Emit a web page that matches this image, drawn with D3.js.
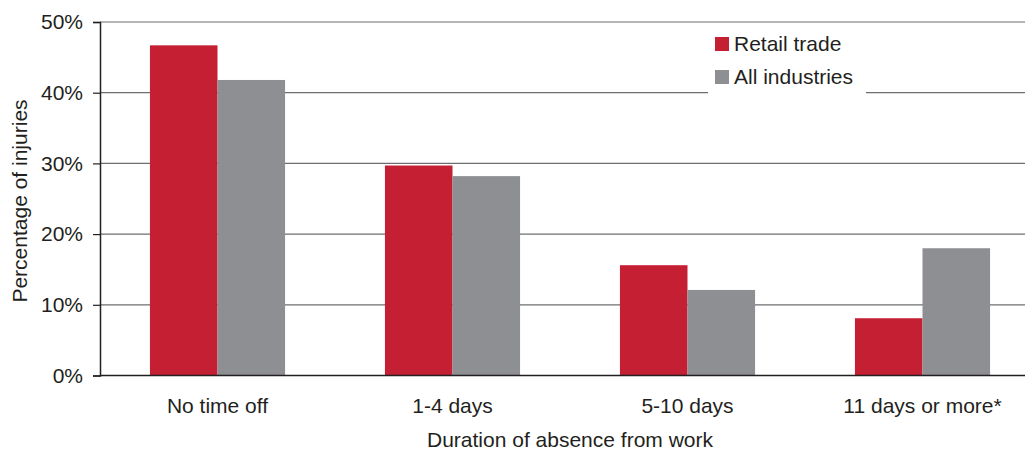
<!DOCTYPE html>
<html><head><meta charset="utf-8">
<script src="https://cdn.jsdelivr.net/npm/d3@7"></script>
<style>
html,body{margin:0;padding:0;background:#fff;}
text{font-family:"Liberation Sans",Arial,sans-serif;fill:#231f20;}
</style></head>
<body>
<svg id="chart" width="1027" height="453"></svg>
<script>
const categories = ["No time off", "1-4 days", "5-10 days", "11 days or more*"];
const seriesNames = ["Retail trade", "All industries"];
const retailTrade = [46.7, 29.7, 15.6, 8.1];
const allIndustries = [41.8, 28.2, 12.1, 18.0];
const yTicks = [0, 10, 20, 30, 40, 50];
const colors = ["#c41f33", "#8e8f93"];

const svg = d3.select("#chart");
const mLeft = 100, mRight = 1025, mTop = 22, mBottom = 375.5;
const fs = 21;

const x = d3.scaleBand().domain(categories).range([mLeft, mLeft + 940]).paddingInner(0.425).paddingOuter(0.2125);
const xs = d3.scaleBand().domain(seriesNames).range([0, x.bandwidth()]);
const y = d3.scaleLinear().domain([0, 50]).range([mBottom, mTop]);

// gridlines
svg.append("g").selectAll("line").data(yTicks.filter(d => d > 0)).join("line")
  .attr("x1", mLeft).attr("x2", mRight)
  .attr("y1", d => y(d)).attr("y2", d => y(d))
  .attr("stroke", "#6d6e71").attr("stroke-width", 1.2);

// bars
const data = categories.map((c, i) => ({c, vals: [retailTrade[i], allIndustries[i]]}));
const groups = svg.append("g").selectAll("g").data(data).join("g")
  .attr("transform", d => `translate(${x(d.c)},0)`);
groups.selectAll("rect").data(d => d.vals.map((v, j) => ({name: seriesNames[j], v, j}))).join("rect")
  .attr("x", d => xs(d.name)).attr("width", xs.bandwidth())
  .attr("y", d => y(d.v)).attr("height", d => y(0) - y(d.v))
  .attr("fill", d => colors[d.j]);

// y axis
const yAxis = d3.axisLeft(y).tickValues(yTicks).tickFormat(d => d + "%").tickSize(7).tickPadding(10);
const ga = svg.append("g").attr("transform", `translate(${mLeft},0)`).call(yAxis);
ga.select(".domain").attr("stroke", "#231f20").attr("stroke-width", 1.5);
ga.selectAll(".tick line").attr("stroke", "#231f20").attr("stroke-width", 1.2);
ga.selectAll(".tick text").attr("font-size", fs).style("font-family", '"Liberation Sans",Arial,sans-serif').attr("fill", "#231f20");

// x axis
const xAxis = d3.axisBottom(x).tickSize(0).tickPadding(22.6);
const gx = svg.append("g").attr("transform", `translate(0,${mBottom})`).call(xAxis);
gx.select(".domain").remove();
svg.append("line").attr("x1", mLeft).attr("x2", mRight).attr("y1", mBottom).attr("y2", mBottom)
  .attr("stroke", "#231f20").attr("stroke-width", 1.5);
gx.selectAll(".tick text").attr("font-size", fs).style("font-family", '"Liberation Sans",Arial,sans-serif').attr("fill", "#231f20");

// axis titles
svg.append("text").attr("x", 570).attr("y", 447).attr("text-anchor", "middle")
  .attr("font-size", fs).text("Duration of absence from work");
svg.append("text").attr("transform", "translate(27,201) rotate(-90)").attr("text-anchor", "middle")
  .attr("font-size", fs).text("Percentage of injuries");

// legend
const lg = svg.append("g");
lg.append("rect").attr("x", 708).attr("y", 26).attr("width", 158).attr("height", 72).attr("fill", "#fff");
seriesNames.forEach((n, i) => {
  lg.append("rect").attr("x", 715).attr("y", 37 + i * 33).attr("width", 14).attr("height", 14).attr("fill", colors[i]);
  lg.append("text").attr("x", 734).attr("y", 51 + i * 33).attr("font-size", fs).text(n);
});
</script>
</body></html>
